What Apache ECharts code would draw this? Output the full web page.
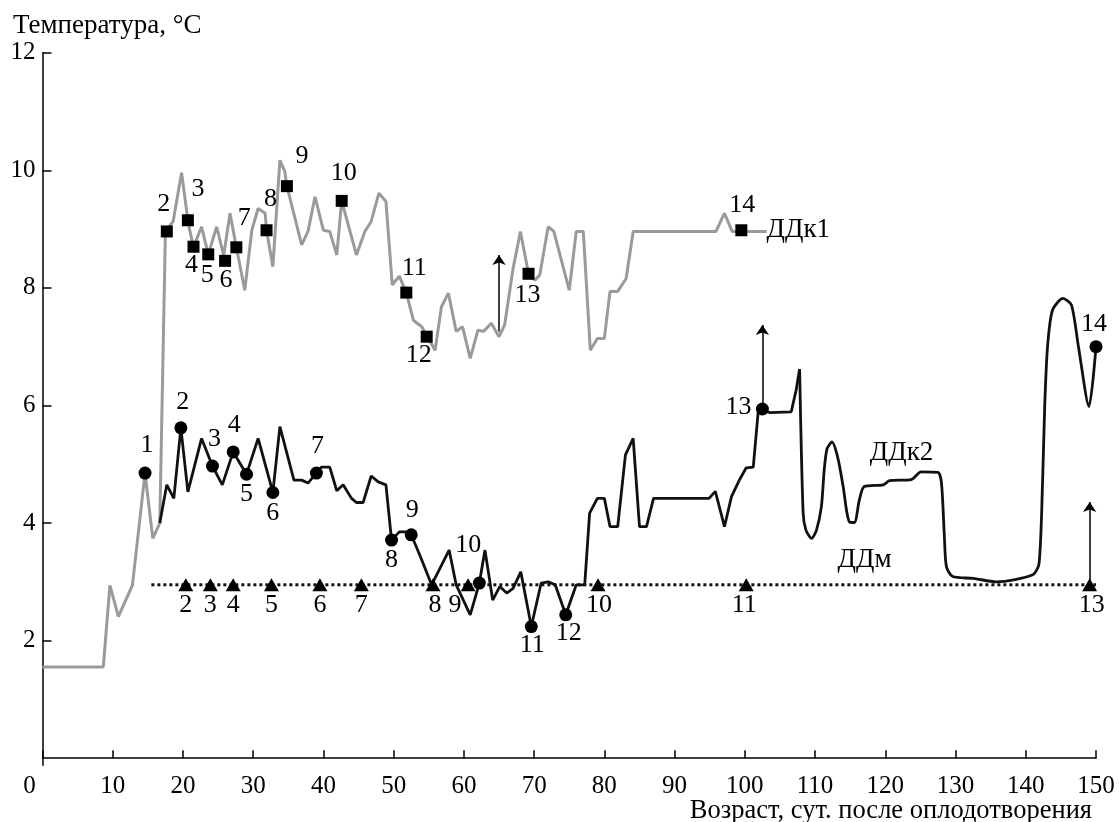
<!DOCTYPE html>
<html>
<head>
<meta charset="utf-8">
<script src="https://cdn.jsdelivr.net/npm/echarts@6/dist/echarts.min.js"></script>
<style>
  html, body { margin: 0; padding: 0; background: #fff; }
  #chart { width: 1119px; height: 822px; }
</style>
</head>
<body>
<div id="chart"></div>
<script>
// ДДк1 (grey line), [day, °C]
const k1Line = [
  [0, 1.55], [8.65, 1.55], [9.6, 2.94], [10.8, 2.41], [12.8, 2.94], [14.6, 4.85], [15.7, 3.74], [16.7, 4.0],
  [17.5, 8.96], [18.6, 9.13], [19.8, 9.96], [20.7, 9.15], [21.0, 8.96], [21.5, 8.70], [22.65, 9.04], [23.6, 8.57],
  [24.8, 9.04], [25.8, 8.55], [26.7, 9.27], [27.6, 8.69], [28.8, 7.96], [29.8, 8.98], [30.7, 9.35], [31.7, 9.27],
  [31.9, 8.98], [32.8, 8.36], [33.8, 10.17], [34.5, 9.98], [34.8, 9.73], [36.9, 8.73], [37.8, 8.96], [38.8, 9.55],
  [40.0, 8.98], [40.9, 8.96], [41.9, 8.56], [42.6, 9.48], [44.7, 8.56], [45.9, 8.96], [46.8, 9.13], [47.9, 9.61],
  [48.9, 9.47], [49.8, 8.05], [50.8, 8.2], [51.8, 7.92], [52.8, 7.45], [54.0, 7.34], [55.9, 6.94], [56.8, 7.68],
  [57.8, 7.91], [58.9, 7.26], [59.8, 7.34], [60.9, 6.80], [62.0, 7.28], [62.8, 7.26], [63.9, 7.40], [65.0, 7.17],
  [65.8, 7.37], [67.0, 8.33], [68.05, 8.96], [69.2, 8.24], [70.1, 8.13], [70.8, 8.22], [72.0, 9.04], [72.8, 8.96],
  [75.0, 7.96], [76.0, 8.96], [77.0, 8.96], [78.0, 6.94], [79.0, 7.14], [80.0, 7.14], [80.8, 7.94], [81.9, 7.94],
  [83.1, 8.16], [84.1, 8.96], [95.9, 8.96], [97.1, 9.27], [98.2, 8.96], [103.1, 8.96]
];

// ДДк2 (black line), jagged part and the smooth tail
const k2Line = [
  [16.7, 4.0], [17.7, 4.65], [18.7, 4.42], [19.7, 5.62], [20.7, 4.53], [22.65, 5.44], [24.2, 4.97], [25.6, 4.65],
  [27.15, 5.21], [29.05, 4.83], [30.7, 5.44], [32.8, 4.52], [33.8, 5.64], [35.8, 4.73], [36.9, 4.73], [37.8, 4.68],
  [39.0, 4.85], [39.7, 4.95], [40.9, 4.95], [41.9, 4.55], [42.8, 4.65], [44.0, 4.42], [44.7, 4.35], [45.65, 4.35],
  [46.8, 4.80], [47.8, 4.70], [48.9, 4.65], [49.7, 3.71], [50.8, 3.85], [51.6, 3.85], [52.5, 3.80], [53.8, 3.43],
  [55.4, 2.95], [57.9, 3.54], [58.9, 2.95], [60.9, 2.44], [62.2, 2.98], [63.0, 3.54], [64.1, 2.69], [65.1, 2.92],
  [66.1, 2.81], [67.0, 2.89], [68.1, 3.17], [69.6, 2.24], [71.0, 2.98], [72.0, 3.00], [73.0, 2.95], [74.5, 2.44],
  [76.0, 2.95], [77.2, 2.95], [77.9, 4.17], [79.0, 4.42], [80.0, 4.42], [80.8, 3.94], [81.9, 3.94], [83.0, 5.16],
  [84.1, 5.44], [85.0, 3.94], [86.0, 3.94], [87.0, 4.42], [94.9, 4.42], [95.8, 4.54], [97.1, 3.94], [98.1, 4.45],
  [99.3, 4.75], [100.2, 4.94], [101.2, 4.95], [101.9, 5.89], [102.5, 5.94], [103.5, 5.88], [106.6, 5.89],
  [107.3, 6.26], [107.8, 6.62]
];
const k2Curve = [
  [107.8, 6.62], [108.3, 4.17], [108.7, 3.88], [109.5, 3.74], [110.2, 3.88], [110.9, 4.28], [111.3, 4.9],
  [111.7, 5.26], [112.4, 5.38], [113.2, 5.13], [114.0, 4.62], [114.5, 4.2], [114.9, 4.02], [115.6, 4.01],
  [116.3, 4.39], [117.0, 4.62], [119.7, 4.65], [120.6, 4.72], [123.7, 4.74], [125.1, 4.87], [127.5, 4.86],
  [128.0, 4.68], [128.4, 3.8], [128.7, 3.26], [129.6, 3.09], [132.5, 3.06], [135.8, 3.00], [141.0, 3.12],
  [141.9, 3.32], [142.4, 4.73], [142.7, 6.0], [143.1, 7.00], [143.8, 7.62], [145.3, 7.82], [146.5, 7.71],
  [147.5, 7.0], [149.0, 5.98], [150.0, 7.00]
];

// ДДм level (dotted)
const mLine = [[15.5, 2.95], [150, 2.95]];

// numbered stage markers
const sqNum = [2, 3, 4, 5, 6, 7, 8, 9, 10, 11, 12, 13, 14];
const sqX = [17.7, 20.7, 21.5, 23.6, 26.0, 27.6, 31.9, 34.8, 42.6, 51.8, 54.7, 69.2, 99.5];
const sqY = [8.96, 9.15, 8.70, 8.57, 8.46, 8.69, 8.98, 9.73, 9.48, 7.92, 7.17, 8.24, 8.98];

const ciNum = [1, 2, 3, 4, 5, 6, 7, 8, 9, 10, 11, 12, 13, 14];
const ciX = [14.6, 19.7, 24.2, 27.15, 29.05, 32.8, 39.0, 49.7, 52.5, 62.2, 69.6, 74.5, 102.5, 150.0];
const ciY = [4.85, 5.62, 4.97, 5.21, 4.83, 4.52, 4.85, 3.71, 3.80, 2.98, 2.24, 2.44, 5.94, 7.00];

const trNum = [2, 3, 4, 5, 6, 7, 8, 9, 10, 11, 13];
const trX = [20.4, 23.9, 27.15, 32.6, 39.5, 45.4, 55.6, 60.6, 79.1, 100.2, 149.1];
const trY = 2.95;

// arrows [x, yFrom, yTo]
const arrows = [[65.0, 7.26, 8.56], [102.5, 5.94, 7.37], [149.1, 2.95, 4.36]];

// series names written on the plot
const seriesNames = ['ДДк1', 'ДДк2', 'ДДм'];
const seriesNameAt = [[103.1, 8.98], [117.8, 5.19], [113.2, 3.37]];

// label offsets in px (layout only)
const sqOffset = [[-3, -27], [10, -31], [-2, 18], [-1, 21], [1, 19], [8, -29], [4, -31], [15, -30], [2, -28],
  [8, -24], [-8, 18], [-1, 21], [1, -25]];
const ciOffset = [[2, -28], [2, -26], [2, -27], [1, -27], [0, 20], [0, 21], [1, -27], [0, 20], [1, -25],
  [-11, -38], [1, 19], [3, 18], [-24, -2], [-2, -23]];
const trOffset = [[0, 20], [0, 20], [0, 20], [0, 20], [0, 20], [0, 20], [2, 20], [-13, 20], [1, 20], [-2, 20], [2, 20]];

const FONT = 'Liberation Serif, Times New Roman, serif';
const textBase = { fontFamily: FONT, fontSize: 26, color: '#000' };

function marks(xs, ys, nums, offs) {
  return xs.map((x, i) => ({
    value: [x, Array.isArray(ys) ? ys[i] : ys],
    label: { offset: offs[i], formatter: String(nums[i]) }
  }));
}

const chart = echarts.init(document.getElementById('chart'));
chart.setOption({
  animation: false,
  title: [
    { text: 'Температура, °C', left: 8, top: 7, textStyle: { fontFamily: FONT, fontSize: 27, fontWeight: 'normal', color: '#000' } },
    { text: 'Возраст, сут. после оплодотворения', right: 22, top: 793, textStyle: { fontFamily: FONT, fontSize: 26.5, fontWeight: 'normal', color: '#000' } }
  ],
  grid: { left: 42.5, right: 23, top: 52.7, bottom: 56.7 },
  xAxis: {
    type: 'value', min: 0, max: 150, interval: 10,
    axisLine: { lineStyle: { color: '#000', width: 1.5 } },
    axisTick: { inside: true, length: 8, lineStyle: { color: '#000', width: 1.5 } },
    splitLine: { show: false },
    axisLabel: {
      margin: 9, fontFamily: FONT, fontSize: 25, color: '#000',
      formatter: v => (v === 0 ? '{z|0}' : String(v)),
      rich: { z: { fontFamily: FONT, fontSize: 25, color: '#000', padding: [0, 26, 0, 0] } }
    }
  },
  yAxis: {
    type: 'value', min: -0.12, max: 12,
    axisLine: { show: true, lineStyle: { color: '#000', width: 1.5 } },
    axisTick: { show: true, inside: true, length: 9, customValues: [2, 4, 6, 8, 10, 12], lineStyle: { color: '#000', width: 1.5 } },
    splitLine: { show: false },
    axisLabel: { margin: 7, fontFamily: FONT, fontSize: 25, color: '#000', customValues: [2, 4, 6, 8, 10, 12] }
  },
  series: [
    {
      name: 'ДДк1', type: 'line', data: k1Line, showSymbol: false, z: 2,
      lineStyle: { color: '#9a9a9a', width: 3 }
    },
    {
      name: 'ДДк2', type: 'line', data: k2Line, showSymbol: false, z: 3,
      lineStyle: { color: '#111', width: 2.8 }
    },
    {
      name: 'ДДк2', type: 'line', data: k2Curve, showSymbol: false, smooth: 0.25, z: 3,
      lineStyle: { color: '#111', width: 2.8 }
    },
    {
      name: 'ДДм', type: 'line', data: mLine, showSymbol: false, z: 3,
      lineStyle: { color: '#111', width: 3, type: [3, 3] },
      markLine: {
        silent: true, symbol: ['none', 'arrow'], symbolSize: 10,
        lineStyle: { color: '#000', width: 1.5, type: 'solid' },
        label: { show: false },
        data: arrows.map(a => [{ coord: [a[0], a[1]] }, { coord: [a[0], a[2]] }])
      }
    },
    {
      type: 'scatter', symbol: 'rect', symbolSize: 12, z: 5,
      itemStyle: { color: '#000', opacity: 1 },
      label: Object.assign({ show: true, position: 'inside' }, textBase),
      data: marks(sqX, sqY, sqNum, sqOffset)
    },
    {
      type: 'scatter', symbol: 'circle', symbolSize: 13, z: 5,
      itemStyle: { color: '#000', opacity: 1 },
      label: Object.assign({ show: true, position: 'inside' }, textBase),
      data: marks(ciX, ciY, ciNum, ciOffset)
    },
    {
      type: 'scatter', symbol: 'triangle', symbolSize: [15, 13], z: 5,
      itemStyle: { color: '#000', opacity: 1 },
      label: Object.assign({ show: true, position: 'inside' }, textBase),
      data: marks(trX, trY, trNum, trOffset)
    },
    {
      type: 'scatter', symbolSize: 0, z: 6, silent: true,
      itemStyle: { color: '#000', opacity: 1 },
      label: Object.assign({ show: true, position: 'right', distance: 0 }, textBase, { fontSize: 27 }),
      data: seriesNameAt.map((p, i) => ({ value: p, label: { formatter: seriesNames[i] } }))
    }
  ]
});
</script>
</body>
</html>
